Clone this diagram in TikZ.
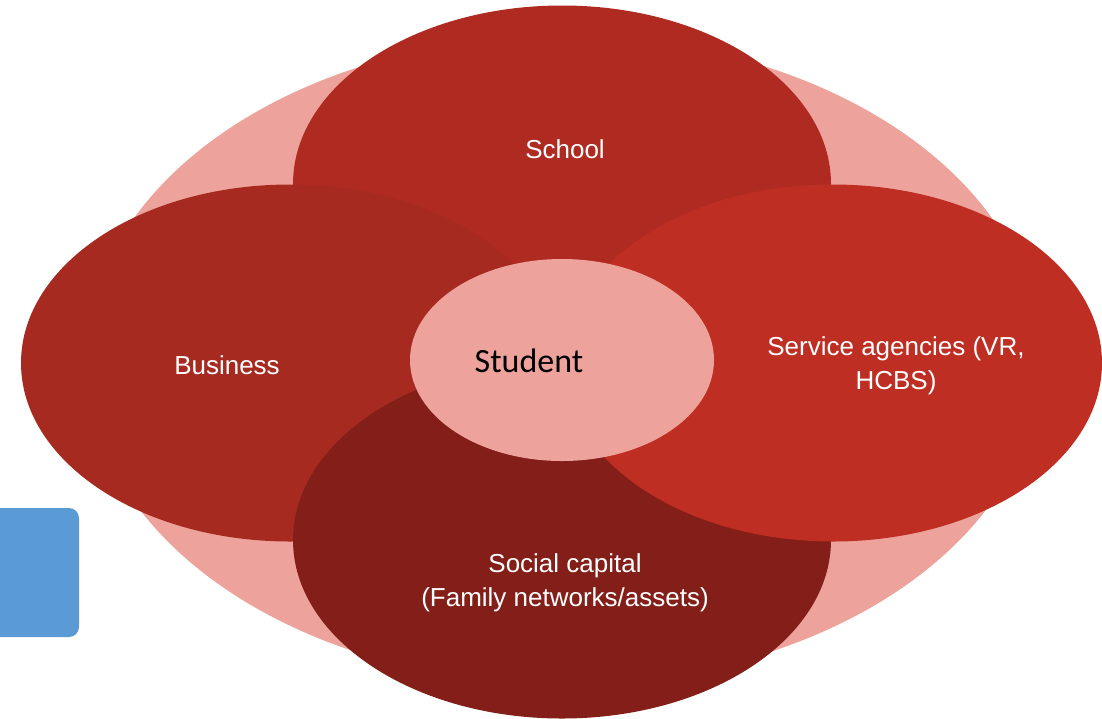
\documentclass[tikz,border=0pt]{standalone}
\usepackage{fontspec}
\setmainfont{Liberation Sans}
\newfontfamily\studentfont{Carlito}
\usetikzlibrary{shapes.geometric}

\definecolor{palerose}{HTML}{EDA39B}
\definecolor{schoolred}{HTML}{AF2B22}
\definecolor{businessred}{HTML}{A72A20}
\definecolor{servicered}{HTML}{BE2E22}
\definecolor{socialred}{HTML}{831F18}
\definecolor{sideblue}{HTML}{5B9BD5}

\tikzset{
  blob/.style={ellipse, draw=none, inner sep=0pt, outer sep=0pt,
    minimum width=538pt, minimum height=357pt},
  lbl/.style={text=white, align=center,
    font=\fontsize{26}{34}\selectfont},
}

\begin{document}
\begin{tikzpicture}[x=1pt, y=-1pt]
  \useasboundingbox (0,0) rectangle (1102,718);
  \clip (0,0) rectangle (1102,718);

  % outer halo
  \node[ellipse, fill=palerose, inner sep=0pt, minimum width=954pt,
        minimum height=648pt] (halo) at (563,360) {};

  % the four surrounding spheres
  \node[blob, fill=schoolred]   (school)   at (562,184) {};
  \node[blob, fill=businessred] (business) at (290,363) {};
  \node[blob, fill=socialred]   (social)   at (562,540) {};
  \node[blob, fill=servicered]  (service)  at (833,363) {};

  % centre
  \node[ellipse, fill=palerose, inner sep=0pt, minimum width=304pt,
        minimum height=202pt] (student) at (562,360) {};

  % labels
  \node[lbl] (schooltxt)   at (565,149) {School};
  \node[lbl] (businesstxt) at (227,365) {Business};
  \node[lbl] (servicetxt)  at (896,366) {Service agencies (VR,\\HCBS)};
  \node[lbl] (socialtxt)   at (565,583) {Social capital\\(Family networks/assets)};
  \node[font=\studentfont\fontsize{34}{40}\selectfont, text=black]
       (studenttxt) at (529,361) {Student};

  % side tab
  \fill[sideblue, rounded corners=10pt] (-14,508) rectangle (79,637);
\end{tikzpicture}
\end{document}
